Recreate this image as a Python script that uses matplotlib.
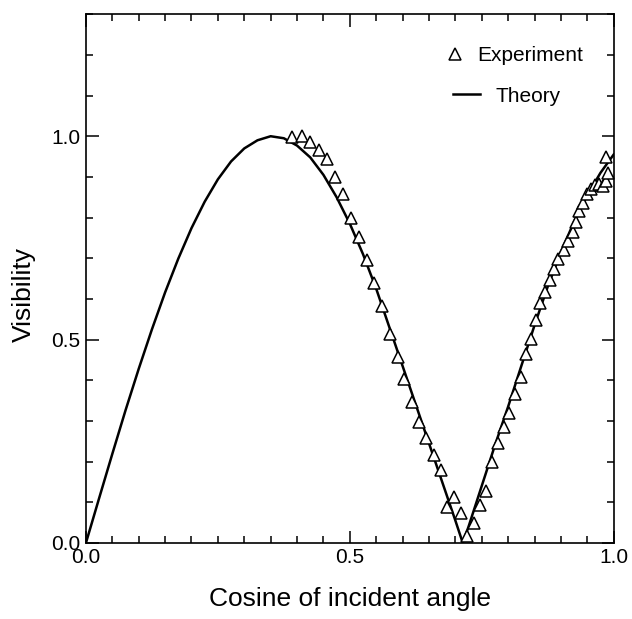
import matplotlib.pyplot as plt
from matplotlib.lines import Line2D
from matplotlib.ticker import MultipleLocator

plt.rcParams['font.family'] = ['Liberation Sans', 'DejaVu Sans']

exp_cos = [0.391, 0.409, 0.425, 0.441, 0.457, 0.472, 0.488, 0.503, 0.517, 0.532,
           0.546, 0.561, 0.576, 0.591, 0.603, 0.618, 0.632, 0.645, 0.659, 0.672,
           0.684, 0.697, 0.710, 0.722, 0.735, 0.746, 0.758, 0.770, 0.781, 0.792,
           0.801, 0.813, 0.824, 0.833, 0.843, 0.852, 0.861, 0.870, 0.879, 0.887,
           0.895, 0.905, 0.914, 0.922, 0.928, 0.935, 0.941, 0.950, 0.957, 0.964,
           0.972, 0.979, 0.985, 0.990, 0.985]
exp_vis = [0.998, 1.000, 0.985, 0.967, 0.943, 0.900, 0.857, 0.800, 0.752, 0.695,
           0.640, 0.583, 0.514, 0.457, 0.404, 0.346, 0.297, 0.259, 0.216, 0.179,
           0.089, 0.112, 0.074, 0.017, 0.048, 0.093, 0.128, 0.199, 0.246, 0.285,
           0.319, 0.365, 0.408, 0.465, 0.502, 0.548, 0.589, 0.616, 0.646, 0.673,
           0.698, 0.720, 0.743, 0.765, 0.790, 0.815, 0.836, 0.857, 0.870, 0.881,
           0.883, 0.877, 0.890, 0.910, 0.948]

# theory curve
th_cos = [0.0, 0.025, 0.05, 0.075, 0.1, 0.125, 0.15, 0.175, 0.2, 0.225, 0.25,
          0.275, 0.3, 0.325, 0.35, 0.375, 0.4, 0.425, 0.45, 0.475, 0.5, 0.525,
          0.55, 0.575, 0.6, 0.625, 0.65, 0.675, 0.7, 0.714, 0.725, 0.75, 0.775,
          0.8, 0.825, 0.85, 0.875, 0.9, 0.925, 0.95, 0.975, 1.0]
th_vis = [0.0, 0.110, 0.219, 0.326, 0.428, 0.525, 0.616, 0.699, 0.774, 0.839, 0.894,
          0.938, 0.970, 0.990, 1.0, 0.995, 0.977, 0.948, 0.905, 0.850, 0.785, 0.710,
          0.625, 0.530, 0.435, 0.340, 0.245, 0.150, 0.055, 0.0, 0.040, 0.140, 0.240,
          0.335, 0.435, 0.535, 0.630, 0.715, 0.790, 0.855, 0.910, 0.955]

fig = plt.figure(figsize=(6.32, 6.19), dpi=100)
ax = fig.add_axes([0.136, 0.123, 0.835, 0.854])

mk = dict(linestyle='none', marker='^', markersize=9, markerfacecolor='white',
          markeredgecolor='black', markeredgewidth=1.1)
ax.plot(exp_cos, exp_vis, zorder=3, **mk)
ax.plot(th_cos, th_vis, color='black', linewidth=1.8, zorder=2)

ax.set_xlim(0, 1.0)
ax.set_ylim(0, 1.3)
ax.xaxis.set_major_locator(MultipleLocator(0.5))
ax.xaxis.set_minor_locator(MultipleLocator(0.05))
ax.yaxis.set_minor_locator(MultipleLocator(0.1))
ax.set_yticks([0.0, 0.5, 1.0])
ax.tick_params(which='both', direction='in', top=True, right=True, labelsize=15, width=1.1)
ax.tick_params(which='major', length=9, pad=4)
ax.tick_params(which='minor', length=5)
for s in ax.spines.values():
    s.set_linewidth(1.2)

ax.set_xlabel('Cosine of incident angle', fontsize=19, labelpad=14)
ax.set_ylabel('Visibility', fontsize=19)
ax.yaxis.set_label_coords(-0.095, 0.47)

# two separate legend rows, as in the original
h_exp = Line2D([], [], **mk)
h_th = Line2D([], [], color='black', linewidth=1.8)
leg1 = ax.legend([h_exp], ['Experiment'], loc='center left', bbox_to_anchor=(0.68, 0.922),
                 frameon=False, fontsize=15, handlelength=1.0, handletextpad=0.58,
                 borderpad=0, borderaxespad=0)
ax.add_artist(leg1)
ax.legend([h_th], ['Theory'], loc='center left', bbox_to_anchor=(0.695, 0.845),
          frameon=False, fontsize=15, handlelength=1.3, handletextpad=0.77,
          borderpad=0, borderaxespad=0)

fig.savefig('out.png', dpi=100)
